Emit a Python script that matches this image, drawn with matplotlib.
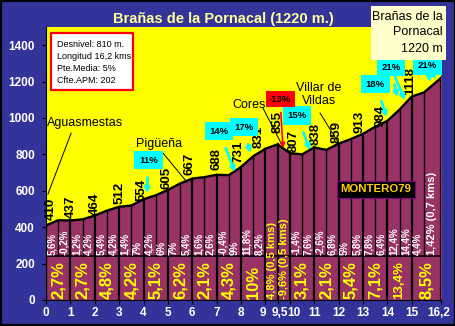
# Perfil del puerto: Brañas de la Pornacal (1220 m.)
import numpy as np
import matplotlib.pyplot as plt
from matplotlib.patches import Rectangle
from matplotlib.transforms import ScaledTranslation

plt.rcParams['font.family'] = ['Liberation Sans', 'DejaVu Sans']

# profile, every half km
km = [0, 0.5, 1, 1.5, 2, 2.5, 3, 3.5, 4, 4.5, 5, 5.5, 6, 6.5, 7, 7.5, 8, 8.5,
      9, 9.5, 10, 10.5, 11, 11.5, 12, 12.5, 13, 13.5, 14, 14.5, 15, 15.5, 16.2]
elev = [410, 438, 437, 443, 464, 491, 512, 519, 554, 575, 605, 640, 667, 675,
        688, 686, 731, 790, 831, 855, 807, 800, 838, 825, 859, 884, 913, 952,
        984, 1046, 1118, 1140, 1220]

# slope of each half km (white labels)
half_pct = ['5,6%', '-0,2%', '1,2%', '4,2%', '5,4%', '4,2%', '1,4%', '7%',
            '4,2%', '6%', '7%', '5,4%', '1,6%', '2,6%', '-0,4%', '9%',
            '11,8%', '8,2%', '', '', '-1,4%', '7,6%', '-2,6%', '6,8%',
            '5%', '5,8%', '7,8%', '6,4%', '12,4%', '14,4%', '4,4%',
            '1,42% (0,7 kms)']

# slope of each km (yellow labels)
seg_start = [0, 1, 2, 3, 4, 5, 6, 7, 8, 9, 9.5, 10, 11, 12, 13, 14, 15]
seg_end = [1, 2, 3, 4, 5, 6, 7, 8, 9, 9.5, 10, 11, 12, 13, 14, 15, 16.2]
seg_pct = ['2,7%', '2,7%', '4,8%', '4,2%', '5,1%', '6,2%', '2,1%', '4,3%',
           '10%', '4,8% (0,5 kms)', '-9,6% (0,5 kms)', '3,1%', '2,1%', '5,4%',
           '7,1%', '13,4%', '8,5%']

# altitude labels
alt_km = [0, 1, 2, 3, 4, 5, 6, 7, 8, 9, 9.5, 10, 11, 12, 13, 14, 15]
alt_val = [410, 437, 464, 512, 554, 605, 667, 688, 731, 831, 855, 807, 838,
           859, 913, 984, 1118]
alt_dx = [0.2, 0.02, 0, 0, -0.1, -0.04, -0.1, 0, -0.1, -0.3, 0, 0.16, 0.07,
          -0.1, -0.15, -0.3, -0.05]
alt_dy = [29, 13, 3, 15, -11, 4, 19, 26, 21, 3, 62, 5, 13, 3, 4, -34, 7]

xticks = [0, 1, 2, 3, 4, 5, 6, 7, 8, 9, 9.5, 10, 11, 12, 13, 14, 15, 16.2]
xtick_labels = ['0', '1', '2', '3', '4', '5', '6', '7', '8', '9', '9,5', '10',
                '11', '12', '13', '14', '15', '16,2']

BLUE = '#333399'
MAROON = '#993366'

fig = plt.figure(figsize=(4.56, 3.26), dpi=100, facecolor=BLUE)
ax = fig.add_axes([46/456, 26/326, 395/456, 273/326])
ax.set_facecolor('#FFFF00')

ax.fill_between(km, elev, 0, color=MAROON, zorder=1)
ax.plot(km, elev, color='k', lw=1.7, zorder=3)

# column separators
for k, e in zip(km, elev):
    if k == int(k) or k in (9.5, 16.2):
        ax.plot([k, k], [0, e], color='k', lw=1.6, zorder=2)
    else:
        ax.plot([k, k], [240, e], color='k', lw=1.0, zorder=2)
ax.axhline(240, color='k', lw=1.2, zorder=2)

# white half km labels
for i, t in enumerate(half_pct):
    if t:
        xc = (km[i] + km[i+1]) / 2
        ax.text(xc, 248, t, rotation=90, ha='center', va='bottom', color='white',
                fontsize=7 if i < 31 else 8, fontweight='bold', zorder=4)

# yellow km labels
for s, e, t in zip(seg_start, seg_end, seg_pct):
    fs = 12
    if 'kms' in t:
        fs = 8
    elif len(t) > 4:
        fs = 9.5
    ax.text((s + e) / 2, 8, t, rotation=90, ha='center', va='bottom',
            color='#FFFF00', fontsize=fs, fontweight='bold', zorder=4)

# altitude labels
for k, v, dx, dy in zip(alt_km, alt_val, alt_dx, alt_dy):
    ax.text(k + dx, v + dy, str(v), rotation=90, ha='center', va='bottom',
            color='k', fontsize=9.5, fontweight='bold', zorder=5)

# place names
ax.text(0.04, 972, 'Aguasmestas', fontsize=9, va='center', ha='left')
ax.plot([1.03, 0.08], [917, 582], color='k', lw=0.7)
ax.text(4.65, 856, 'Pigüeña', fontsize=9, va='center', ha='center')
ax.plot([4.80, 5.78], [807, 648], color='k', lw=0.7)
ax.text(8.33, 1070, 'Cores', fontsize=9, va='center', ha='center')
ax.plot([8.90, 9.64], [1054, 862], color='k', lw=0.7)
ax.text(11.2, 1128, 'Villar de\nVildas', fontsize=9, va='center', ha='center',
        linespacing=1.1)
ax.plot([11.24, 11.98], [1027, 867], color='k', lw=0.7)

# slope callouts
def callout(txt, xy_box, tips, fc='#00FFFF', ac='#00FFFF'):
    for j, tip in enumerate(tips):
        ax.annotate(txt if j == 0 else '', xy=tip, xytext=xy_box,
                    ha='center', va='center', fontsize=6.8, fontweight='bold',
                    color='k', zorder=6,
                    bbox=dict(boxstyle='square,pad=0.5', fc=fc, ec='none')
                    if j == 0 else None,
                    arrowprops=dict(arrowstyle='-|>', color=ac, lw=2.0,
                                    mutation_scale=7, shrinkA=6, shrinkB=0))

callout('11%', (4.20, 769), [(4.14, 587)])
callout('14%', (7.10, 928), [(7.75, 703)])
callout('17%', (8.12, 950), [(8.37, 807)])
callout('15%', (10.29, 1013), [(10.83, 823)])
callout('18%', (13.51, 1186), [(13.98, 1005)])
callout('21%', (14.15, 1279), [(14.40, 1115), (14.72, 1098)])
callout('21%', (15.65, 1287), [(15.75, 1197), (15.99, 1213)])
ax.annotate('-13%', xy=(9.72, 834), xytext=(9.60, 1103), ha='center',
            va='center', fontsize=6.8, fontweight='bold', color='k', zorder=6,
            bbox=dict(boxstyle='square,pad=0.35', fc='#FF0000', ec='none'),
            arrowprops=dict(arrowstyle='-|>', color='#FF0000', lw=1.2,
                            mutation_scale=7, shrinkA=4, shrinkB=0))

# data box
ax.add_patch(Rectangle((0.205, 1153), 3.36, 313, fc='white', ec='#FF0000',
                       lw=1.6, zorder=6))
for yy, t in zip([1405, 1340, 1274, 1208],
                 ['Desnivel: 810 m.', 'Longitud 16,2 kms', 'Pte.Media: 5%',
                  'Cfte.APM: 202']):
    ax.text(0.45, yy, t, fontsize=6.5, va='center', ha='left', zorder=7)

ax.text(13.53, 609, 'MONTERO79', ha='center', va='center', color='#FFCC00',
        fontsize=8.2, fontweight='bold', zorder=6,
        bbox=dict(boxstyle='square,pad=0.3', fc='black', ec='#800080', lw=0.8))

ax.set_xlim(0, 16.2)
ax.set_ylim(0, 1500)
ax.set_yticks(range(0, 1401, 200))
ax.set_yticklabels([str(v) for v in range(0, 1401, 200)], color='white',
                   fontsize=8.5, fontweight='bold')
ax.set_xticks(xticks)
ax.set_xticklabels(xtick_labels, color='white', fontsize=8.5, fontweight='bold')
ax.tick_params(axis='y', direction='out', length=3, pad=5, colors='k',
               labelcolor='white')
ax.tick_params(axis='x', direction='out', length=3, pad=2, colors='k',
               labelcolor='white')
shift = {'9': -3, '9,5': 2, '10': 4, '16,2': -2}
for lab in ax.get_xticklabels():
    dx = shift.get(lab.get_text(), 0)
    if dx:
        lab.set_transform(lab.get_transform() +
                          ScaledTranslation(dx / 100, 0, fig.dpi_scale_trans))
for side in ['top', 'right']:
    ax.spines[side].set_visible(False)
ax.spines['left'].set_color('k')
ax.spines['bottom'].set_color('k')

# title and summit box
fig.text(223/456, 1 - 19/326, 'Brañas de la Pornacal (1220 m.)', ha='center',
         va='center', color='#FFFF99', fontsize=10.5, fontweight='bold')
fig.patches.append(Rectangle((371/456, 1 - 60/326), 75/456, 54/326,
                             transform=fig.transFigure, fc='#FFFFCC',
                             ec='none', zorder=5))
for yy, t in zip([17, 32, 49], ['Brañas de la', 'Pornacal', '1220 m']):
    fig.text(443/456, 1 - yy/326, t, ha='right', va='center', fontsize=9,
             color='k', zorder=6)
fig.patches.append(Rectangle((0, 0), 1, 1, transform=fig.transFigure,
                             fc='none', ec='black', lw=3, zorder=10))

fig.savefig('out.png', dpi=100, facecolor=BLUE)
